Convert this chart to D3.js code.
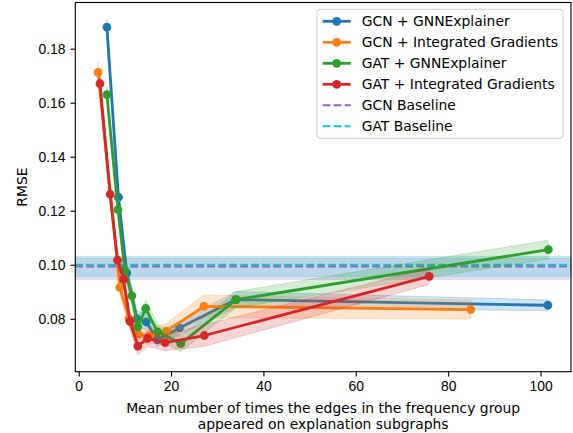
<!DOCTYPE html>
<html>
<head>
<meta charset="utf-8">
<script src="https://d3js.org/d3.v7.min.js"></script>
<style>
  body { margin: 0; background: #fff; }
  svg { font-family: "DejaVu Sans", sans-serif; }
  .tick text { font-size: 13.9px; fill: #000; }
  .tick line { stroke: #000; stroke-width: 1.1; }
</style>
</head>
<body>
<script>
// data
var gcnGnnX   = [6.1, 8.6, 10.4, 12.6, 14.6, 17.0, 21.8, 34.0, 101.6];
var gcnGnnY   = [0.188, 0.125, 0.097, 0.080, 0.0788, 0.0722, 0.0766, 0.0871, 0.085];
var gcnGnnErr = [0.003, 0.003, 0.003, 0.003, 0.003, 0.0025, 0.0025, 0.003, 0.002];

var gcnIgX   = [4.2, 8.9, 10.9, 12.9, 15.2, 19.0, 27.1, 84.9];
var gcnIgY   = [0.1712, 0.0916, 0.080, 0.0743, 0.0735, 0.0754, 0.0846, 0.0834];
var gcnIgErr = [0.004, 0.003, 0.003, 0.003, 0.003, 0.003, 0.0042, 0.0035];

var gatGnnX   = [6.1, 8.5, 10.0, 11.5, 12.8, 14.5, 17.1, 22.1, 34.1, 101.7];
var gatGnnY   = [0.163, 0.1204, 0.098, 0.0885, 0.077, 0.0838, 0.0751, 0.0708, 0.0871, 0.1056];
var gatGnnErr = [0.003, 0.003, 0.003, 0.003, 0.003, 0.003, 0.003, 0.003, 0.003, 0.0035];

var gatIgX   = [4.6, 6.8, 8.4, 9.7, 11.1, 12.8, 14.9, 18.7, 27.2, 75.9];
var gatIgY   = [0.1671, 0.1261, 0.1017, 0.0946, 0.079, 0.0699, 0.0727, 0.0712, 0.0738, 0.0957];
var gatIgErr = [0.003, 0.003, 0.003, 0.003, 0.003, 0.0033, 0.003, 0.003, 0.004, 0.003];

var seriesNames = ["GCN + GNNExplainer", "GCN + Integrated Gradients",
                   "GAT + GNNExplainer", "GAT + Integrated Gradients"];
var baselineNames = ["GCN Baseline", "GAT Baseline"];
var baselineVals = [0.0994, 0.1000];
var baselineLo   = [0.0946, 0.0957];
var baselineHi   = [0.1024, 0.1031];

var xTicks = [0, 20, 40, 60, 80, 100];
var yTicks = [0.08, 0.10, 0.12, 0.14, 0.16, 0.18];

var colors = ["#1f77b4", "#ff7f0e", "#2ca02c", "#d62728"];
var baseColors = ["#9467bd", "#17becf"];

var series = [
  {name: seriesNames[0], xs: gcnGnnX, ys: gcnGnnY, err: gcnGnnErr},
  {name: seriesNames[1], xs: gcnIgX, ys: gcnIgY, err: gcnIgErr},
  {name: seriesNames[2], xs: gatGnnX, ys: gatGnnY, err: gatGnnErr},
  {name: seriesNames[3], xs: gatIgX, ys: gatIgY, err: gatIgErr}
];

var width = 573, height = 433;
var plotL = 75.3, plotR = 571, plotT = 2.5, plotB = 371.7;

var svg = d3.select("body").append("svg")
    .attr("width", width)
    .attr("height", height);

var x = d3.scaleLinear().domain([-0.74, 106.6]).range([plotL, plotR]);
var y = d3.scaleLinear().domain([0.0604, 0.1971]).range([plotB, plotT]);

// baseline bands + dashed lines
baselineVals.forEach(function(v, i) {
  svg.append("rect")
      .attr("x", plotL)
      .attr("width", plotR - plotL)
      .attr("y", y(baselineHi[i]))
      .attr("height", y(baselineLo[i]) - y(baselineHi[i]))
      .attr("fill", baseColors[i])
      .attr("fill-opacity", 0.22)
      .attr("stroke", baseColors[i])
      .attr("stroke-opacity", 0.22);
});
baselineVals.forEach(function(v, i) {
  svg.append("line")
      .attr("x1", plotL).attr("x2", plotR)
      .attr("y1", y(v)).attr("y2", y(v))
      .attr("stroke", baseColors[i])
      .attr("stroke-width", 2.1)
      .attr("stroke-dasharray", "7.7,3.3");
});

var area = d3.area()
    .x(function(d) { return x(d.x); })
    .y0(function(d) { return y(d.y - d.e); })
    .y1(function(d) { return y(d.y + d.e); });
var line = d3.line()
    .x(function(d) { return x(d.x); })
    .y(function(d) { return y(d.y); });

series.forEach(function(s, i) {
  var pts = s.xs.map(function(v, j) { return {x: v, y: s.ys[j], e: s.err[j]}; });
  var g = svg.append("g");
  g.append("path")
      .attr("d", area(pts))
      .attr("fill", colors[i])
      .attr("fill-opacity", 0.2)
      .attr("stroke", colors[i])
      .attr("stroke-opacity", 0.2);
  g.append("path")
      .attr("d", line(pts))
      .attr("fill", "none")
      .attr("stroke", colors[i])
      .attr("stroke-width", 2.8)
      .attr("stroke-linejoin", "round");
  g.selectAll("circle")
      .data(pts)
      .enter().append("circle")
      .attr("cx", function(d) { return x(d.x); })
      .attr("cy", function(d) { return y(d.y); })
      .attr("r", 4.4)
      .attr("fill", colors[i]);
});

// axes
svg.append("g")
    .attr("transform", "translate(0," + plotB + ")")
    .call(d3.axisBottom(x).tickValues(xTicks).tickSize(4.9).tickPadding(4.9).tickFormat(d3.format("d")))
    .call(function(g) { g.select(".domain").remove(); });
svg.append("g")
    .attr("transform", "translate(" + plotL + ",0)")
    .call(d3.axisLeft(y).tickValues(yTicks).tickSize(4.9).tickPadding(4.9).tickFormat(d3.format(".2f")))
    .call(function(g) { g.select(".domain").remove(); });

svg.append("rect")
    .attr("x", plotL).attr("y", plotT)
    .attr("width", plotR - plotL).attr("height", plotB - plotT)
    .attr("fill", "none")
    .attr("stroke", "#000")
    .attr("stroke-width", 1.1);

// axis labels
svg.append("text")
    .attr("transform", "translate(22," + ((plotT + plotB) / 2) + ") rotate(-90)")
    .attr("text-anchor", "middle")
    .attr("dy", "0.35em")
    .style("font-size", "13.9px")
    .text("RMSE");

svg.selectAll(".xlab")
    .data(["Mean number of times the edges in the frequency group",
           "appeared on explanation subgraphs"])
    .enter().append("text")
    .attr("x", (plotL + plotR) / 2)
    .attr("y", function(d, i) { return 408 + i * 16.3; })
    .attr("dy", "0.35em")
    .attr("text-anchor", "middle")
    .style("font-size", "13.9px")
    .text(function(d) { return d; });

// legend
var leg = svg.append("g");
leg.append("rect")
    .attr("x", 317).attr("y", 9.3)
    .attr("width", 246).attr("height", 129)
    .attr("rx", 3)
    .attr("fill", "#fff")
    .attr("fill-opacity", 0.8)
    .attr("stroke", "#cccccc");

var legItems = seriesNames.map(function(n, i) { return {name: n, color: colors[i], dash: false}; })
  .concat(baselineNames.map(function(n, i) { return {name: n, color: baseColors[i], dash: true}; }));

legItems.forEach(function(d, i) {
  var yy = 21.3 + i * 21;
  leg.append("line")
      .attr("x1", 322.7).attr("x2", 350.7)
      .attr("y1", yy).attr("y2", yy)
      .attr("stroke", d.color)
      .attr("stroke-width", d.dash ? 2.1 : 2.8)
      .attr("stroke-dasharray", d.dash ? "7.7,3.3" : null);
  if (!d.dash) {
    leg.append("circle")
        .attr("cx", 336.7).attr("cy", yy).attr("r", 4.4)
        .attr("fill", d.color);
  }
  leg.append("text")
      .attr("x", 361.7).attr("y", yy)
      .attr("dy", "0.35em")
      .style("font-size", "13.9px")
      .text(d.name);
});
</script>
</body>
</html>
